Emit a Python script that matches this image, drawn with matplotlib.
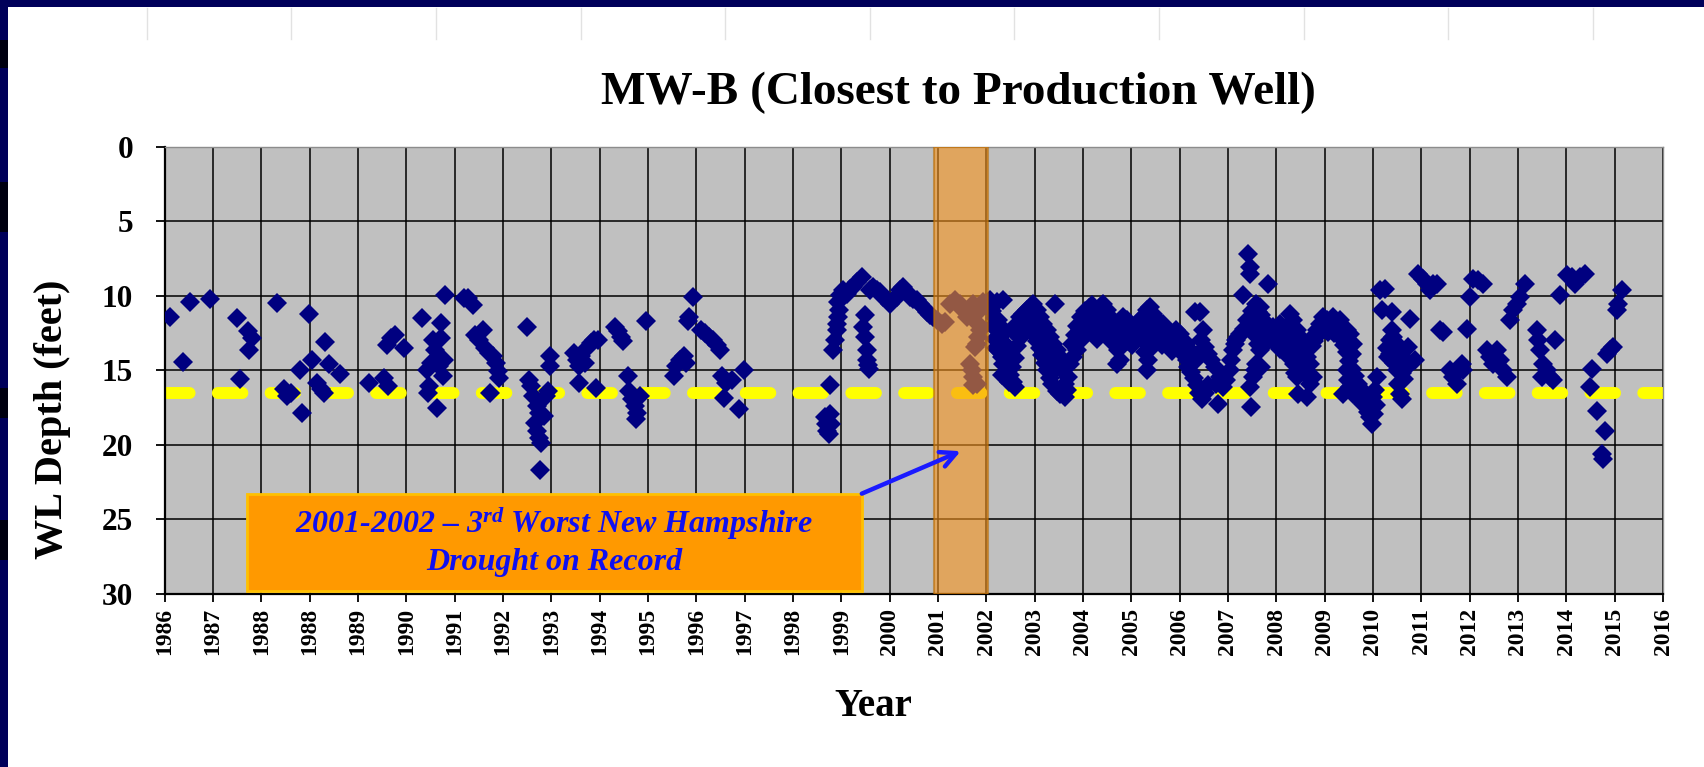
import numpy as np
import matplotlib
matplotlib.use('Agg')
import matplotlib.pyplot as plt
from matplotlib.patches import Rectangle
from matplotlib.lines import Line2D

plt.rcParams['font.family'] = ['Liberation Serif', 'DejaVu Serif']
plt.rcParams['mathtext.fontset'] = 'custom'
plt.rcParams['mathtext.it'] = 'Liberation Serif:bold:italic'
plt.rcParams['mathtext.rm'] = 'Liberation Serif:bold:italic'
plt.rcParams['mathtext.bf'] = 'Liberation Serif:bold:italic'

# ---------------- text ----------------
TITLE = 'MW-B (Closest to Production Well)'
Y_LABEL = 'WL Depth (feet)'
X_LABEL = 'Year'
NOTE_LINE1 = '2001-2002 \u2013 3$^{rd}$ Worst New Hampshire'
NOTE_LINE2 = 'Drought on Record'

# ---------------- axes ----------------
x_tick_labels = ['1986', '1987', '1988', '1988', '1989', '1990', '1991', '1992',
                 '1993', '1994', '1995', '1996', '1997', '1998', '1999', '2000',
                 '2001', '2002', '2003', '2004', '2005', '2006', '2007', '2008',
                 '2009', '2010', '2011', '2012', '2013', '2014', '2015', '2016']
x_start, x_end = 1986.08, 2016.08          # decimal years
y_ticks = [0, 5, 10, 15, 20, 25, 30]       # depth, feet

threshold_depth = 16.5                     # yellow dashed line
drought_start, drought_end = 2001.48, 2002.57

# ---------------- data: (decimal year, depth ft) ----------------
obs_1986_1997 = [
    (1986.20, 11.39), (1986.46, 14.44), (1986.60, 10.39), (1986.99, 10.23),
    (1987.54, 11.50), (1987.59, 15.57), (1987.75, 12.39), (1987.83, 12.84),
    (1987.78, 13.62), (1988.33, 10.50), (1988.48, 16.28), (1988.54, 16.73),
    (1988.61, 16.51), (1988.83, 17.84), (1988.79, 14.95), (1988.98, 11.23),
    (1989.04, 14.28), (1989.14, 15.84), (1989.21, 16.28), (1989.27, 16.51),
    (1989.29, 13.13), (1989.37, 14.55), (1989.60, 15.22), (1990.17, 15.84),
    (1990.47, 15.51), (1990.55, 16.06), (1990.53, 13.28), (1990.61, 12.84),
    (1990.69, 12.61), (1990.88, 13.50), (1991.23, 11.50), (1991.34, 14.95),
    (1991.38, 16.06), (1991.36, 16.51), (1991.42, 14.51), (1991.46, 12.95),
    (1991.49, 13.62), (1991.53, 17.51), (1991.57, 14.73), (1991.61, 11.84),
    (1991.65, 15.40), (1991.67, 14.28), (1991.69, 9.94), (1991.61, 12.84),
    (1992.07, 10.17), (1992.16, 10.17), (1992.26, 10.61), (1992.30, 12.61),
    (1992.38, 12.95), (1992.45, 12.28), (1992.49, 13.50), (1992.57, 13.84),
    (1992.65, 14.06), (1992.72, 14.51), (1992.76, 15.06), (1992.78, 15.51),
    (1992.59, 16.51), (1993.34, 12.06), (1993.38, 15.62), (1993.41, 16.06),
    (1993.45, 16.73), (1993.53, 17.40), (1993.57, 17.84), (1993.49, 18.51),
    (1993.53, 19.07), (1993.57, 19.51), (1993.61, 19.84), (1993.59, 21.67),
    (1993.68, 18.06), (1993.72, 16.73), (1993.76, 16.40), (1993.80, 14.06),
    (1993.80, 14.73), (1994.28, 13.84), (1994.34, 14.28), (1994.37, 14.73),
    (1994.41, 14.06), (1994.37, 15.84), (1994.49, 14.51), (1994.53, 13.50),
    (1994.61, 13.17), (1994.68, 12.95), (1994.76, 12.95), (1994.72, 16.17),
    (1995.10, 12.06), (1995.16, 12.39), (1995.22, 12.73), (1995.26, 13.06),
    (1995.36, 15.40), (1995.37, 16.40), (1995.43, 16.95), (1995.49, 17.40),
    (1995.51, 18.29), (1995.53, 17.84), (1995.60, 16.73), (1995.72, 11.66),
    (1996.29, 15.40), (1996.33, 14.73), (1996.41, 14.28), (1996.49, 14.06),
    (1996.52, 14.51), (1996.56, 11.72), (1996.59, 11.39), (1996.66, 10.06),
    (1996.83, 12.28), (1996.91, 12.50), (1996.99, 12.73), (1997.06, 12.95),
    (1997.14, 13.28), (1997.20, 13.66), (1997.25, 15.40), (1997.33, 15.84),
    (1997.29, 16.84), (1997.45, 15.62), (1997.59, 17.62), (1997.68, 14.95),
]

obs_1999_2002 = [
    (1999.40, 16.01), (1999.30, 18.14), (1999.40, 17.92), (1999.33, 18.59),
    (1999.43, 18.59), (1999.35, 19.04), (1999.39, 19.26), (1999.47, 13.66),
    (1999.50, 12.99), (1999.54, 12.32), (1999.55, 11.87), (1999.57, 11.42),
    (1999.59, 10.97), (1999.57, 10.41), (1999.60, 9.97), (1999.67, 9.63),
    (1999.74, 9.85), (1999.80, 9.52), (1999.87, 9.41), (1999.94, 9.07),
    (2000.04, 8.73), (2000.10, 11.31), (2000.07, 12.10), (2000.10, 12.77),
    (2000.14, 13.66), (2000.15, 14.33), (2000.17, 14.67), (2000.19, 14.90),
    (2000.20, 9.63), (2000.27, 9.41), (2000.34, 9.63), (2000.40, 9.74),
    (2000.47, 10.08), (2000.54, 10.30), (2000.60, 10.53), (2000.67, 10.30),
    (2000.74, 10.08), (2000.80, 9.63), (2000.87, 9.41), (2000.94, 9.74),
    (2001.00, 10.08), (2001.07, 10.19), (2001.14, 10.30), (2001.20, 10.53),
    (2001.27, 10.75), (2001.34, 11.09), (2001.40, 11.31), (2001.47, 11.42),
    (2001.54, 11.65), (2001.64, 11.87), (2001.70, 11.76), (2001.80, 10.53),
    (2001.90, 10.30), (2002.00, 10.53), (2002.07, 10.97), (2002.14, 11.42),
    (2002.20, 11.09), (2002.27, 10.53), (2002.34, 10.75), (2002.40, 10.97),
    (2002.47, 10.41), (2002.37, 11.87), (2002.40, 12.32), (2002.37, 12.77),
    (2002.34, 13.21), (2002.30, 13.44), (2002.20, 14.56), (2002.24, 15.01),
    (2002.27, 15.45), (2002.34, 15.90), (2002.27, 16.01),
]

obs_2002_2006 = [
    (2002.60, 10.30), (2002.74, 10.41), (2002.87, 10.30), (2002.77, 11.65),
    (2002.74, 12.32), (2002.77, 12.77), (2002.80, 13.21), (2002.77, 13.66),
    (2002.84, 14.11), (2002.87, 14.56), (2002.94, 15.01), (2003.01, 15.34),
    (2003.07, 15.79), (2003.11, 16.13), (2003.04, 12.32), (2003.14, 11.87),
    (2003.21, 11.42), (2003.27, 11.20), (2003.34, 10.97), (2003.41, 10.75),
    (2003.47, 10.53), (2003.54, 10.97), (2003.61, 11.42), (2003.67, 11.87),
    (2003.74, 12.32), (2003.81, 12.77), (2003.87, 13.21), (2003.91, 10.53),
    (2003.94, 13.66), (2004.01, 14.11), (2004.04, 14.56), (2004.07, 15.01),
    (2004.11, 15.90), (2004.11, 16.80), (2004.14, 16.35), (2004.17, 15.45),
    (2004.21, 14.56), (2004.27, 14.11), (2004.34, 13.66), (2004.37, 12.77),
    (2004.41, 12.32), (2004.47, 11.87), (2004.54, 11.65), (2004.61, 11.42),
    (2004.67, 11.20), (2004.74, 10.97), (2004.81, 10.75), (2004.87, 10.53),
    (2004.94, 10.97), (2005.01, 11.42), (2005.07, 11.87), (2005.11, 12.32),
    (2005.14, 12.77), (2005.17, 13.66), (2005.21, 14.33), (2005.14, 14.56),
    (2005.27, 11.42), (2005.34, 11.65), (2005.41, 12.10), (2005.47, 12.32),
    (2005.54, 11.87), (2005.61, 11.65), (2005.67, 11.42), (2005.74, 10.97),
    (2005.81, 10.75), (2005.87, 11.20), (2005.94, 11.65), (2006.01, 12.10),
    (2006.07, 11.87), (2006.14, 12.32), (2006.21, 12.54), (2006.24, 12.99),
    (2006.27, 12.77), (2006.34, 12.32), (2006.41, 12.54), (2006.48, 12.99),
    (2006.54, 13.21), (2006.61, 13.66), (2006.67, 13.89), (2006.74, 14.33),
    (2005.74, 15.01), (2005.77, 14.33), (2006.71, 11.09),
    # denser readings of the 2002-2006 band
    (2002.65, 11.00), (2002.70, 11.50), (2002.66, 12.00), (2002.70, 12.90),
    (2002.72, 13.50), (2002.80, 12.00), (2002.84, 12.60), (2002.90, 13.20),
    (2002.92, 13.90), (2002.97, 14.40), (2002.85, 15.30), (2002.98, 15.80),
    (2003.05, 14.80), (2003.10, 14.20), (2003.15, 13.40), (2003.20, 12.80),
    (2003.25, 12.30), (2003.30, 11.70), (2003.40, 11.60), (2003.45, 12.20),
    (2003.50, 12.60), (2003.55, 13.00), (2003.60, 13.50), (2003.65, 14.00),
    (2003.70, 14.50), (2003.75, 15.00), (2003.80, 15.50), (2003.85, 15.90),
    (2003.95, 16.40), (2004.00, 16.60), (2004.05, 16.20), (2003.70, 12.90),
    (2003.78, 13.60), (2003.85, 14.30), (2003.92, 14.90), (2004.25, 13.20),
    (2004.30, 12.60), (2004.35, 12.00), (2004.42, 11.40), (2004.50, 11.00),
    (2004.58, 10.80), (2004.65, 10.60), (2004.72, 11.60), (2004.78, 12.00),
    (2004.85, 11.50), (2004.45, 12.90), (2004.52, 12.40), (2004.60, 12.10),
    (2004.68, 12.60), (2004.75, 12.90), (2004.90, 12.20), (2004.97, 12.60),
    (2005.03, 13.00), (2005.05, 12.60), (2005.20, 12.00), (2005.25, 12.70),
    (2005.30, 12.30), (2005.35, 13.00), (2005.40, 12.90), (2005.45, 13.30),
    (2005.50, 12.80), (2005.55, 12.50), (2005.60, 12.30), (2005.65, 12.90),
    (2005.70, 12.40), (2005.78, 11.80), (2005.85, 12.40), (2005.90, 12.90),
    (2005.82, 13.50), (2005.70, 13.80), (2006.00, 12.90), (2006.05, 13.30),
    (2006.10, 12.90), (2006.18, 13.40), (2006.25, 13.70), (2006.30, 13.10),
    (2006.38, 13.40), (2006.45, 13.70), (2006.50, 14.00), (2006.55, 14.30),
    (2006.58, 14.80), (2006.64, 15.10), (2006.70, 15.50), (2006.76, 16.00),
    (2006.55, 13.80), (2006.62, 14.40),
]

obs_2007_2015 = [
    (2006.81, 11.09), (2006.88, 12.32), (2006.84, 12.99), (2006.91, 13.44),
    (2006.98, 13.89), (2007.04, 14.33), (2007.11, 14.78), (2007.18, 17.25),
    (2007.14, 15.90), (2007.21, 15.45), (2007.28, 16.13), (2007.34, 15.68),
    (2007.41, 15.01), (2007.44, 14.33), (2007.48, 13.66), (2007.51, 13.21),
    (2007.54, 12.99), (2007.58, 12.77), (2007.61, 12.54), (2007.78, 7.17),
    (2007.81, 8.06), (2007.82, 8.51), (2007.68, 9.97), (2008.18, 9.23),
    (2007.94, 10.53), (2007.98, 11.09), (2008.01, 10.75), (2008.04, 11.31),
    (2008.08, 11.65), (2008.11, 12.10), (2008.14, 12.54), (2008.21, 12.32),
    (2008.28, 12.10), (2008.34, 12.32), (2007.98, 13.21), (2008.01, 13.66),
    (2007.94, 14.56), (2008.04, 14.78), (2007.88, 15.45), (2007.81, 16.13),
    (2007.84, 17.47), (2007.91, 15.01), (2008.41, 11.87), (2008.48, 12.32),
    (2008.54, 12.77), (2008.61, 11.20), (2008.68, 11.65), (2008.75, 12.32),
    (2008.81, 12.77), (2008.88, 13.21), (2008.71, 13.21), (2008.75, 14.11),
    (2008.78, 14.56), (2008.81, 15.01), (2008.75, 15.45), (2008.78, 16.58),
    (2008.95, 16.80), (2009.01, 15.90), (2009.08, 15.45), (2008.88, 13.66),
    (2008.95, 14.11), (2009.01, 14.56), (2009.08, 12.77), (2009.15, 12.32),
    (2009.21, 11.87), (2009.28, 11.42), (2009.35, 11.65), (2009.41, 11.87),
    (2009.48, 11.42), (2009.55, 11.87), (2009.61, 11.65), (2009.68, 12.10),
    (2009.75, 12.32), (2009.81, 12.54), (2009.88, 13.21), (2009.85, 13.89),
    (2009.68, 16.58), (2009.75, 15.01), (2009.78, 15.68), (2009.81, 16.13),
    (2009.88, 16.58), (2009.95, 16.80), (2010.01, 17.02), (2010.08, 17.25),
    (2010.15, 17.47), (2010.18, 17.81), (2010.21, 18.14), (2010.25, 18.59),
    (2010.28, 16.80), (2010.31, 16.35), (2010.35, 15.45), (2010.41, 9.63),
    (2010.51, 9.52), (2010.45, 10.97), (2010.65, 11.09), (2010.68, 12.77),
    (2010.75, 13.21), (2010.81, 13.66), (2010.88, 14.11), (2010.95, 14.56),
    (2010.98, 13.44), (2011.01, 11.53), (2011.11, 14.33), (2010.75, 15.01),
    (2010.78, 15.90), (2010.81, 16.58), (2010.85, 16.91), (2010.61, 12.99),
    (2010.65, 12.32), (2010.58, 14.11), (2011.18, 8.51), (2011.28, 8.85),
    (2011.35, 9.18), (2011.41, 9.63), (2011.48, 9.18), (2011.55, 9.18),
    (2011.61, 12.32), (2011.68, 12.43), (2011.81, 15.01), (2011.88, 15.45),
    (2011.95, 15.90), (2012.05, 14.56), (2012.08, 15.01), (2012.15, 12.21),
    (2012.22, 10.08), (2012.28, 8.85), (2012.38, 8.96), (2012.48, 9.18),
    (2012.55, 13.66), (2012.62, 14.11), (2012.68, 14.56), (2012.75, 13.66),
    (2012.82, 14.33), (2012.88, 15.01), (2012.95, 15.45), (2013.02, 11.65),
    (2013.08, 10.97), (2013.15, 10.53), (2013.22, 10.08), (2013.32, 9.18),
    (2013.55, 12.32), (2013.58, 12.99), (2013.62, 13.66), (2013.68, 14.56),
    (2013.75, 15.01), (2013.65, 15.45), (2013.82, 15.45), (2013.88, 15.68),
    (2013.92, 12.99), (2014.02, 9.97), (2014.15, 8.62), (2014.25, 8.73),
    (2014.32, 9.18), (2014.42, 8.73), (2014.52, 8.51), (2014.65, 14.90),
    (2014.62, 16.13), (2014.75, 17.70), (2014.92, 19.04), (2014.85, 20.61),
    (2014.88, 20.94), (2014.95, 13.89), (2015.02, 13.66), (2015.08, 13.44),
    (2015.15, 10.97), (2015.18, 10.53), (2015.25, 9.59),
    # denser readings of the 2006-2011 band
    (2006.80, 16.50), (2006.86, 16.90), (2006.92, 16.50), (2006.97, 16.00),
    (2007.70, 12.20), (2007.75, 11.60), (2007.85, 11.00), (2007.88, 12.00),
    (2007.92, 12.60), (2007.95, 11.70), (2008.00, 12.30), (2008.05, 12.90),
    (2008.10, 13.30), (2008.15, 13.00), (2008.20, 12.80), (2008.25, 12.60),
    (2008.30, 12.90), (2008.36, 13.30), (2008.42, 13.60), (2008.46, 13.00),
    (2008.50, 13.50), (2008.55, 14.00), (2008.58, 13.20), (2008.64, 12.30),
    (2008.66, 13.80), (2008.70, 14.60), (2008.72, 15.20), (2008.85, 14.00),
    (2008.90, 14.60), (2008.93, 15.30), (2009.05, 13.40), (2009.10, 13.00),
    (2009.18, 12.60), (2009.25, 12.20), (2009.32, 12.20), (2009.38, 12.40),
    (2009.45, 12.00), (2009.50, 12.50), (2009.57, 12.40), (2009.64, 12.80),
    (2009.70, 13.30), (2009.76, 13.80), (2009.80, 14.40), (2009.86, 14.90),
    (2009.92, 15.40), (2009.98, 15.90), (2010.05, 16.30), (2010.12, 16.70),
    (2010.20, 17.20), (2010.23, 17.60), (2010.30, 17.90), (2010.33, 17.30),
    (2010.55, 13.50), (2010.62, 13.90), (2010.70, 14.50), (2010.72, 13.60),
    (2010.78, 14.20), (2010.85, 15.20), (2010.90, 15.60), (2010.92, 14.90),
]

observations = obs_1986_1997 + obs_1999_2002 + obs_2002_2006 + obs_2007_2015
years = np.array([p[0] for p in observations])
depths = np.array([p[1] for p in observations])

# ---------------- figure ----------------
W, H = 1704, 767
fig = plt.figure(figsize=(W / 100, H / 100), dpi=100)
fig.patch.set_facecolor('white')

# slide frame (navy bands on top and left)
navy = '#00005A'
fig.add_artist(Rectangle((0, 1 - 7 / H), 1, 7 / H, transform=fig.transFigure,
                         facecolor=navy, edgecolor='none', zorder=10))
fig.add_artist(Rectangle((0, 0), 8 / W, 1, transform=fig.transFigure,
                         facecolor=navy, edgecolor='none', zorder=10))
for y0, y1 in [(40, 68), (182, 232), (388, 418), (520, 560)]:
    fig.add_artist(Rectangle((0, 1 - y1 / H), 8 / W, (y1 - y0) / H,
                             transform=fig.transFigure, facecolor='#000010',
                             edgecolor='none', zorder=11))
# faint slide guide marks at the top
for i in range(11):
    xf = (146.7 + i * 144.6) / W
    fig.add_artist(Line2D([xf, xf], [1 - 8 / H, 1 - 39 / H],
                          transform=fig.transFigure, color='#e2e2e2', lw=1.0))

ax = fig.add_axes([164.5 / W, 1 - 594 / H, (1663 - 164.5) / W, (594 - 146.7) / H])
ax.set_facecolor('#C0C0C0')
ax.set_xlim(x_start, x_end)
ax.set_ylim(30, 0)

ax.set_xticks(np.linspace(x_start, x_end, len(x_tick_labels)))
ax.set_xticklabels(x_tick_labels, rotation=90, fontsize=17, fontweight='bold',
                   va='top', ha='center')
ax.set_yticks(y_ticks)
ax.set_yticklabels([str(v) for v in y_ticks], fontsize=22.5, fontweight='bold')
ax.tick_params(axis='y', length=6.5, width=1.3, pad=16, direction='out', color='black')
ax.tick_params(axis='x', length=5.8, width=1.3, pad=4.3, direction='out', color='black')

ax.grid(True, color='black', lw=1.1, zorder=0.5)
ax.set_axisbelow(True)
for side in ['left', 'bottom']:
    ax.spines[side].set_color('black')
    ax.spines[side].set_linewidth(1.6)
for side in ['top', 'right']:
    ax.spines[side].set_color('#8c8c8c')
    ax.spines[side].set_linewidth(1.0)

# threshold line
ax.axhline(threshold_depth, color='#FFFF00', lw=8.6, dashes=(2.06, 2.36),
           dash_capstyle='round', zorder=2)

# observations
ax.plot(years, depths, linestyle='none', marker='D', markersize=10.3,
        markerfacecolor='#000080', markeredgecolor='#000080',
        markeredgewidth=0.0, zorder=3)

# drought period highlight
ax.axvspan(drought_start, drought_end, facecolor='#F7941D', alpha=0.6,
           edgecolor='#B86A00', lw=1.5, zorder=4)

# annotation box
box_x0, box_x1 = 1987.73, 2000.04
box_y0, box_y1 = 23.27, 29.79
ax.add_patch(Rectangle((box_x0, box_y0), box_x1 - box_x0, box_y1 - box_y0,
                       facecolor='#FF9900', edgecolor='#FFC000', lw=2, zorder=5))
note_x = (box_x0 + box_x1) / 2
ax.text(note_x, 25.29, NOTE_LINE1, ha='center', va='center', fontsize=23,
        fontweight='bold', fontstyle='italic', color='#1010F0', zorder=6)
ax.text(note_x, 27.91, NOTE_LINE2, ha='center', va='center', fontsize=23,
        fontweight='bold', fontstyle='italic', color='#1010F0', zorder=6)
ax.annotate('', xy=(2002.02, 20.42), xytext=(box_x1, box_y0),
            arrowprops=dict(arrowstyle='->', color='#1A1AFF', lw=3.2,
                            mutation_scale=28, shrinkA=0, shrinkB=0),
            zorder=6)

# titles
fig.text(958 / W, 1 - 93 / H, TITLE, ha='center', va='center', fontsize=34,
         fontweight='bold')
fig.text(52.5 / W, 1 - 419 / H, Y_LABEL, ha='center', va='center', rotation=90,
         fontsize=29, fontweight='bold')
fig.text(873 / W, 1 - 706 / H, X_LABEL, ha='center', va='center', fontsize=28,
         fontweight='bold')

fig.savefig('out.png', dpi=100)
